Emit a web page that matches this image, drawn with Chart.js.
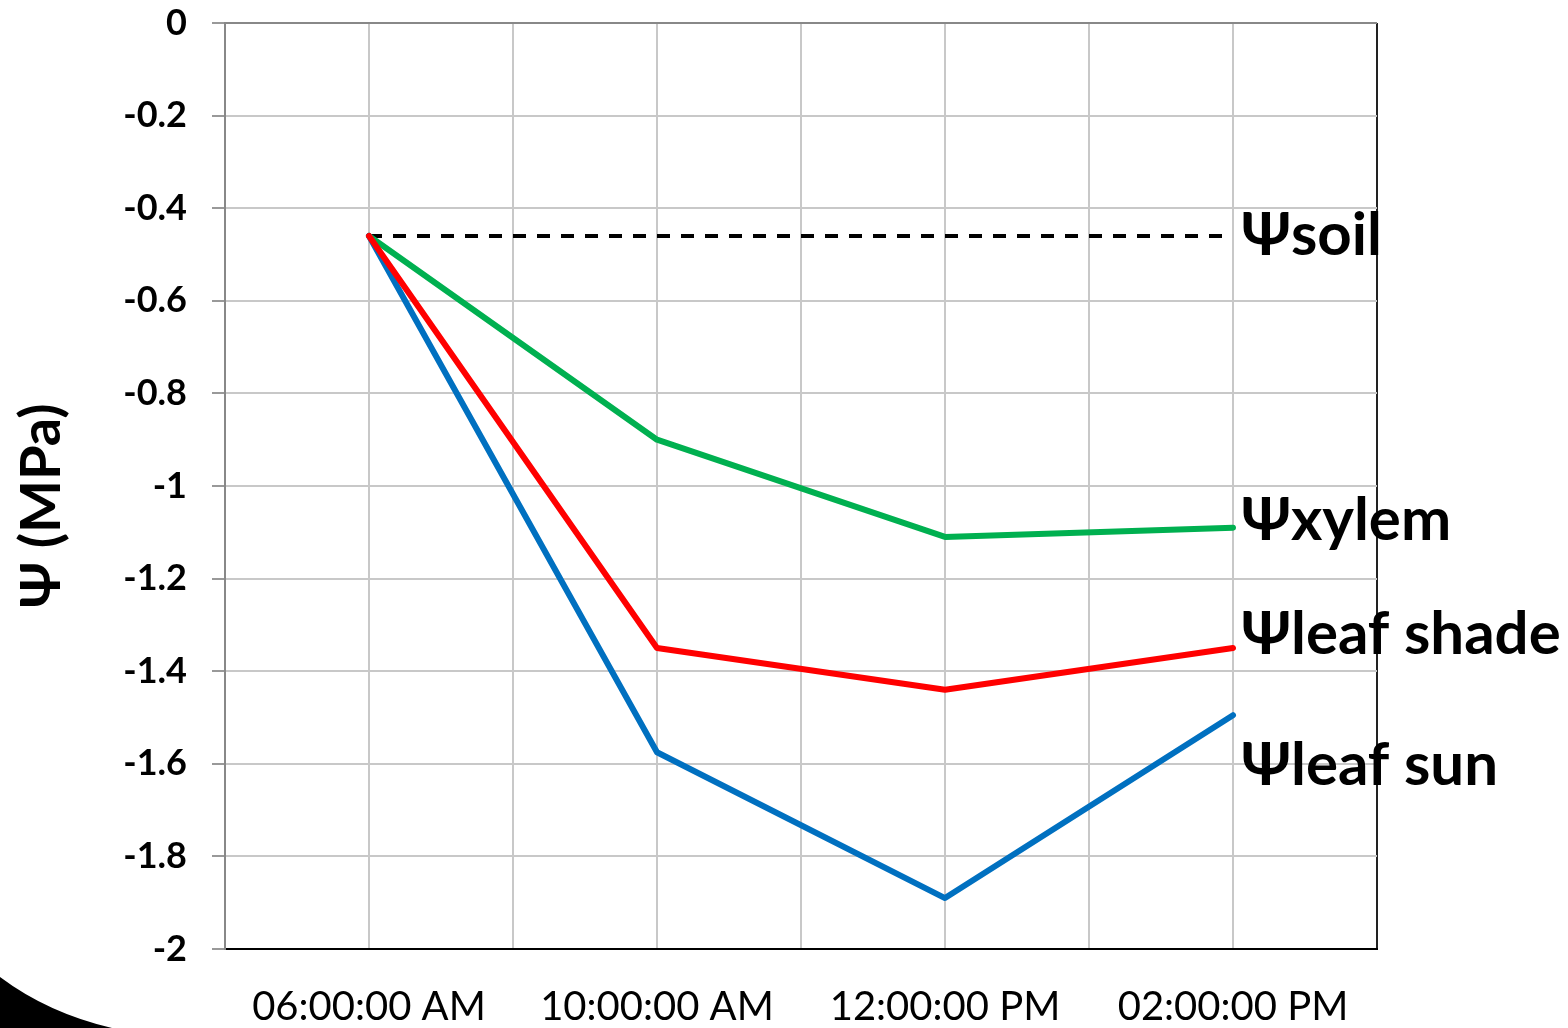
<!DOCTYPE html>
<html><head><meta charset="utf-8">
<script src="https://cdn.jsdelivr.net/npm/chart.js@4.4.1/dist/chart.umd.min.js"></script>
<style>html,body{margin:0;padding:0;background:#fff;}#wrap{position:relative;width:1568px;height:1028px;}</style>
</head><body><div id="wrap"><canvas id="c" width="1568" height="1028"></canvas></div>
<script>
// ---- data ----
const categories = ['06:00:00 AM', '10:00:00 AM', '12:00:00 PM', '02:00:00 PM'];
const psiSoil = [-0.46, -0.46, -0.46, -0.46];
const psiXylem = [-0.46, -0.90, -1.11, -1.09];
const psiLeafShade = [-0.46, -1.35, -1.44, -1.35];
const psiLeafSun = [-0.46, -1.575, -1.89, -1.495];
const seriesNames = ['Ψsoil', 'Ψxylem', 'Ψleaf shade', 'Ψleaf sun'];
const yAxisTitle = 'Ψ (MPa)';
const yMin = -2, yMax = 0, yStep = 0.2;

// ---- styling ----
const FONT = 'Lato';
const labelAnchors = [-0.46, -1.075, -1.32, -1.605]; // y (data units) of the right-hand series labels

function toPoints(vals) { return vals.map((v, i) => ({ x: 2 * i + 1, y: v })); }

const seriesLabelPlugin = {
  id: 'seriesLabels',
  afterDatasetsDraw(chart) {
    const ctx = chart.ctx;
    const xs = chart.scales.x, ys = chart.scales.y;
    ctx.save();
    ctx.font = 'bold 60px ' + FONT;
    ctx.fillStyle = '#000';
    ctx.textAlign = 'left';
    ctx.textBaseline = 'middle';
    seriesNames.forEach((n, i) => {
      const x = xs.getPixelForValue(2 * (categories.length - 1) + 1) + 8;
      const y = ys.getPixelForValue(labelAnchors[i]);
      ctx.fillText(n, x, y);
    });
    ctx.restore();
  }
};

const decoPlugin = {
  id: 'deco',
  afterDraw(chart) {
    const ctx = chart.ctx;
    ctx.save();
    ctx.fillStyle = '#000';
    ctx.beginPath();
    ctx.moveTo(0, 977);
    ctx.quadraticCurveTo(48, 1013, 112, 1028);
    ctx.lineTo(0, 1028);
    ctx.closePath();
    ctx.fill();
    ctx.restore();
  }
};

new Chart(document.getElementById('c'), {
  type: 'line',
  data: {
    datasets: [
      { label: seriesNames[0], data: toPoints(psiSoil), borderColor: '#000', borderWidth: 4, borderDash: [13, 11], order: 3 },
      { label: seriesNames[1], data: toPoints(psiXylem), borderColor: '#00B050', borderWidth: 6, borderCapStyle: 'round', borderJoinStyle: 'round', order: 2 },
      { label: seriesNames[2], data: toPoints(psiLeafShade), borderColor: '#FF0000', borderWidth: 6, borderCapStyle: 'round', borderJoinStyle: 'round', order: 0 },
      { label: seriesNames[3], data: toPoints(psiLeafSun), borderColor: '#0070C0', borderWidth: 6, borderCapStyle: 'round', borderJoinStyle: 'round', order: 1 }
    ]
  },
  options: {
    responsive: false,
    animation: false,
    devicePixelRatio: 1,
    elements: { point: { radius: 0, hoverRadius: 0 }, line: { tension: 0 } },
    layout: { padding: { top: 23, right: 191, left: 0, bottom: 0 } },
    plugins: { legend: { display: false }, tooltip: { enabled: false } },
    scales: {
      x: {
        type: 'linear', min: 0, max: 2 * categories.length,
        afterFit(s) { s.height = 79; s.paddingLeft = 0; s.paddingRight = 0; },
        border: { color: '#000', width: 2 },
        grid: {
          color: (c) => c.index === 2 * categories.length ? '#222' : '#C8C8C8',
          lineWidth: 2, tickLength: 0, drawTicks: false
        },
        ticks: {
          stepSize: 1, autoSkip: false, maxRotation: 0, padding: 34,
          color: '#000', font: { family: FONT, size: 40 },
          callback: (v) => (v % 2 === 1 ? categories[(v - 1) / 2] : '')
        }
      },
      y: {
        min: yMin, max: yMax,
        afterFit(s) { s.width = 225; s.paddingTop = 0; s.paddingBottom = 0; },
        border: { color: '#888', width: 2 },
        grid: {
          color: (c) => (c.tick && c.tick.value === yMax) ? '#888' : '#C8C8C8',
          tickColor: '#999', lineWidth: 2, tickLength: 13
        },
        title: { display: false },
        ticks: {
          stepSize: yStep, padding: 25, color: '#000',
          font: { family: FONT, size: 36, weight: 'bold' },
          callback: (v) => String(Math.round(v * 10) / 10)
        }
      }
    }
  },
  plugins: [seriesLabelPlugin, decoPlugin, {
    id: 'yTitle',
    afterDraw(chart) {
      const ctx = chart.ctx;
      ctx.save();
      ctx.translate(42, 506);
      ctx.rotate(-Math.PI / 2);
      ctx.font = 'bold 56px ' + FONT;
      ctx.fillStyle = '#000';
      ctx.textAlign = 'center';
      ctx.textBaseline = 'middle';
      ctx.fillText(yAxisTitle, 0, 0);
      ctx.restore();
    }
  }]
});
</script></body></html>
